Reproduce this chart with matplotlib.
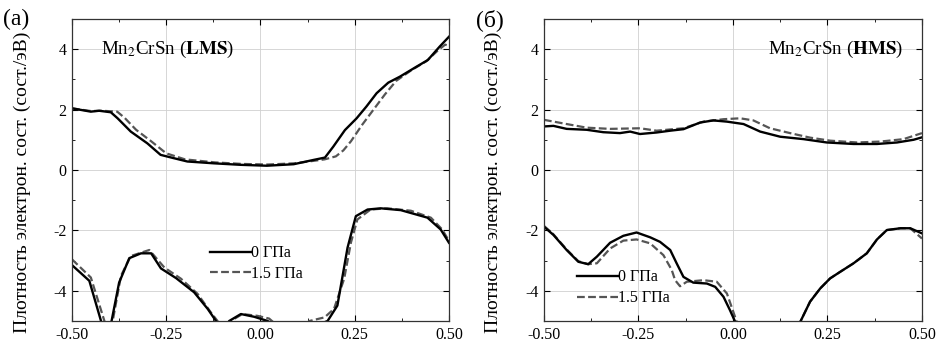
import matplotlib
matplotlib.use('Agg')
import matplotlib.pyplot as plt
from matplotlib.ticker import MultipleLocator, FormatStrFormatter

plt.rcParams['font.family'] = ['Liberation Serif', 'DejaVu Serif']
plt.rcParams['mathtext.fontset'] = 'stix'
plt.rcParams['axes.unicode_minus'] = False

# (а) LMS, верхняя ветвь
lms_up_x0 = [-0.5, -0.45, -0.428, -0.397, -0.379, -0.344, -0.3, -0.265, -0.23, -0.194, -0.124,
             -0.053, 0.017, 0.088, 0.14, 0.171, 0.193, 0.224, 0.255, 0.281, 0.308, 0.339,
             0.37, 0.414, 0.444, 0.475, 0.5]
lms_up_y0 = [2.04, 1.93, 1.96, 1.91, 1.71, 1.27, 0.88, 0.5, 0.39, 0.28, 0.22,
             0.17, 0.14, 0.19, 0.33, 0.41, 0.77, 1.32, 1.71, 2.1, 2.54, 2.89,
             3.09, 3.42, 3.64, 4.08, 4.41]
lms_up_x15 = [-0.5, -0.45, -0.42, -0.38, -0.36, -0.33, -0.29, -0.25, -0.2, -0.12, -0.05, 0.02,
              0.09, 0.14, 0.17, 0.2, 0.22, 0.24, 0.27, 0.3, 0.33, 0.36, 0.4, 0.44, 0.47, 0.49, 0.5]
lms_up_y15 = [2.04, 1.95, 1.96, 1.93, 1.72, 1.33, 0.95, 0.55, 0.35, 0.25, 0.2, 0.18,
              0.22, 0.3, 0.35, 0.45, 0.65, 0.95, 1.5, 2.0, 2.5, 2.95, 3.3, 3.6, 3.95, 4.15, 4.1]

# (а) LMS, нижняя ветвь
lms_dn_x0 = [-0.5, -0.454, -0.423, -0.41, -0.395, -0.375, -0.348, -0.317, -0.29, -0.264, -0.224,
             -0.176, -0.14, -0.118, -0.1, -0.083, -0.052, -0.017, 0.019, 0.03, 0.1, 0.178,
             0.204, 0.231, 0.253, 0.284, 0.319, 0.372, 0.443, 0.478, 0.5]
lms_dn_y0 = [-3.15, -3.67, -5.0, -5.4, -5.0, -3.73, -2.92, -2.76, -2.76, -3.26, -3.58,
             -4.05, -4.6, -5.0, -5.3, -5.0, -4.77, -4.86, -5.0, -5.1, -5.4, -5.0,
             -4.49, -2.57, -1.53, -1.31, -1.27, -1.33, -1.58, -1.97, -2.41]
lms_dn_x15 = [-0.5, -0.45, -0.414, -0.405, -0.392, -0.37, -0.344, -0.295, -0.255, -0.211,
              -0.167, -0.132, -0.114, -0.1, -0.079, -0.048, -0.008, 0.023, 0.035, 0.1, 0.13,
              0.17, 0.195, 0.222, 0.24, 0.257, 0.292, 0.336, 0.399, 0.452, 0.482, 0.5]
lms_dn_y15 = [-2.96, -3.56, -5.0, -5.4, -5.0, -3.5, -2.85, -2.65, -3.23, -3.6,
              -4.1, -4.71, -5.0, -5.3, -5.0, -4.77, -4.83, -4.92, -5.05, -5.3, -5.0,
              -4.88, -4.6, -3.6, -2.4, -1.64, -1.31, -1.27, -1.35, -1.58, -1.97, -2.35]

# (б) HMS, верхняя ветвь
hms_up_x0 = [-0.5, -0.475, -0.44, -0.387, -0.343, -0.299, -0.272, -0.246, -0.202, -0.166, -0.131,
             -0.087, -0.052, -0.016, 0.028, 0.072, 0.125, 0.187, 0.248, 0.319, 0.381, 0.434,
             0.478, 0.5]
hms_up_y0 = [1.44, 1.46, 1.36, 1.33, 1.25, 1.22, 1.27, 1.19, 1.24, 1.3, 1.35,
             1.57, 1.64, 1.6, 1.52, 1.27, 1.1, 1.02, 0.91, 0.86, 0.86, 0.91,
             1.0, 1.08]
hms_up_x15 = [-0.5, -0.44, -0.387, -0.325, -0.246, -0.202, -0.131, -0.078, -0.025, 0.019, 0.054,
              0.098, 0.151, 0.204, 0.257, 0.328, 0.39, 0.451, 0.5]
hms_up_y15 = [1.66, 1.52, 1.4, 1.36, 1.38, 1.3, 1.38, 1.6, 1.68, 1.71, 1.64,
              1.38, 1.22, 1.07, 0.97, 0.91, 0.94, 1.02, 1.22]

# (б) HMS, нижняя ветвь
hms_dn_x0 = [-0.5, -0.475, -0.44, -0.409, -0.383, -0.36, -0.325, -0.29, -0.255, -0.219, -0.193,
             -0.166, -0.149, -0.131, -0.105, -0.069, -0.047, -0.025, -0.008, 0.006, 0.09,
             0.178, 0.204, 0.231, 0.257, 0.284, 0.319, 0.354, 0.381, 0.407, 0.443, 0.469, 0.5]
hms_dn_y0 = [-1.88, -2.15, -2.65, -3.04, -3.12, -2.87, -2.41, -2.18, -2.07, -2.23, -2.38,
             -2.65, -3.09, -3.54, -3.73, -3.76, -3.87, -4.2, -4.64, -5.03, -6.0,
             -5.03, -4.36, -3.92, -3.59, -3.37, -3.09, -2.76, -2.3, -1.99, -1.93, -1.93, -2.1]
hms_dn_x15 = [-0.5, -0.475, -0.44, -0.409, -0.383, -0.36, -0.325, -0.29, -0.255, -0.219, -0.184,
              -0.162, -0.153, -0.14, -0.122, -0.078, -0.043, -0.016, 0.001, 0.01, 0.09,
              0.178, 0.204, 0.231, 0.257, 0.284, 0.319, 0.354, 0.381, 0.407, 0.443, 0.469, 0.5]
hms_dn_y15 = [-1.85, -2.13, -2.63, -3.02, -3.12, -3.09, -2.6, -2.34, -2.3, -2.43, -2.82,
              -3.31, -3.65, -3.85, -3.7, -3.65, -3.7, -4.09, -4.7, -5.03, -6.0,
              -5.03, -4.36, -3.92, -3.59, -3.37, -3.09, -2.76, -2.3, -1.99, -1.93, -1.93, -2.27]

labels = ['0 ГПа', '1.5 ГПа']
ylabel = 'Плотность электрон. сост. (сост./эВ)'

fig = plt.figure(figsize=(9.46, 3.46), dpi=100)
ax1 = fig.add_axes([0.0761, 0.0723, 0.3985, 0.873])
ax2 = fig.add_axes([0.575, 0.0723, 0.3996, 0.873])

panels = [
    (ax1, [(lms_up_x0, lms_up_y0), (lms_dn_x0, lms_dn_y0)],
     [(lms_up_x15, lms_up_y15), (lms_dn_x15, lms_dn_y15)]),
    (ax2, [(hms_up_x0, hms_up_y0), (hms_dn_x0, hms_dn_y0)],
     [(hms_up_x15, hms_up_y15), (hms_dn_x15, hms_dn_y15)]),
]

handles = {}
for ax, solid, dashed in panels:
    for x, y in dashed:
        l2, = ax.plot(x, y, color='#555555', lw=1.6, ls=(0, (3.5, 1.5)))
    for x, y in solid:
        l1, = ax.plot(x, y, color='black', lw=1.7)
    handles[ax] = [l1, l2]

    ax.set_xlim(-0.5, 0.5)
    ax.set_ylim(-5, 5)
    ax.xaxis.set_major_locator(MultipleLocator(0.25))
    ax.xaxis.set_minor_locator(MultipleLocator(0.125))
    ax.yaxis.set_major_locator(MultipleLocator(2))
    ax.yaxis.set_minor_locator(MultipleLocator(1))
    ax.xaxis.set_major_formatter(FormatStrFormatter('%.2f'))
    ax.tick_params(which='both', direction='in', top=True, right=True, labelsize=11.5, pad=4)
    ax.tick_params(which='major', length=4)
    ax.tick_params(which='minor', length=2.5)
    ax.grid(True, which='major', color='#d0d0d0', lw=0.6)
    for s in ax.spines.values():
        s.set_color('#333333')
        s.set_linewidth(0.9)
    ax.set_ylabel(ylabel, fontsize=14)
    ax.yaxis.set_label_coords(-0.11, 0.46)

ax1.legend(handles[ax1], labels, loc='center left', bbox_to_anchor=(0.35, 0.19),
           frameon=False, fontsize=11.5, handlelength=2.55, handletextpad=0.0,
           labelspacing=0.3, borderaxespad=0)
ax2.legend(handles[ax2], labels, loc='center left', bbox_to_anchor=(0.07, 0.11),
           frameon=False, fontsize=11.5, handlelength=2.55, handletextpad=0.0,
           labelspacing=0.3, borderaxespad=0)

ax1.text(0.077, 0.9, r'Mn$_2$CrSn ($\mathbf{LMS}$)', transform=ax1.transAxes,
         fontsize=13.7, ha='left', va='center')
ax2.text(0.95, 0.9, r'Mn$_2$CrSn ($\mathbf{HMS}$)', transform=ax2.transAxes,
         fontsize=13.7, ha='right', va='center')

fig.text(0.003, 0.975, '(а)', fontsize=17, ha='left', va='top')
fig.text(0.503, 0.975, '(б)', fontsize=17, ha='left', va='top')

fig.savefig('out.png', dpi=100)
